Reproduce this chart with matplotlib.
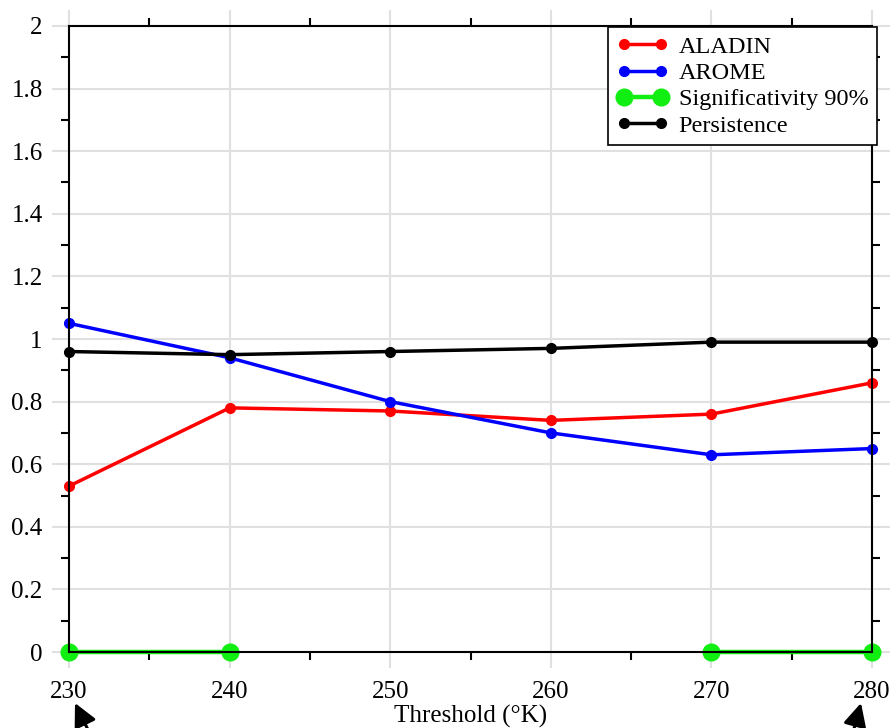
import matplotlib
matplotlib.use("Agg")
import matplotlib.pyplot as plt
import numpy as np

plt.rcParams['font.family'] = ['Liberation Serif', 'DejaVu Serif']

# data
thresholds = [230, 240, 250, 260, 270, 280]
aladin = [0.53, 0.78, 0.77, 0.74, 0.76, 0.86]
arome = [1.05, 0.94, 0.80, 0.70, 0.63, 0.65]
signif = [0, 0, np.nan, np.nan, 0, 0]
persistence = [0.96, 0.95, 0.96, 0.97, 0.99, 0.99]

x_ticks = [230, 240, 250, 260, 270, 280]
y_ticks = [0, 0.2, 0.4, 0.6, 0.8, 1, 1.2, 1.4, 1.6, 1.8, 2]
y_tick_labels = ['0', '0.2', '0.4', '0.6', '0.8', '1', '1.2', '1.4', '1.6', '1.8', '2']

fs = 18

fig = plt.figure(figsize=(8.93, 7.28), dpi=100)
ax = fig.add_axes([52 / 893, 1 - 668 / 728, 838 / 893, 658 / 728])

ax.plot(thresholds, aladin, color='#ff0000', lw=2.5, marker='o', ms=7, label='ALADIN')
ax.plot(thresholds, arome, color='#0000ff', lw=2.5, marker='o', ms=7, label='AROME')
ax.plot(thresholds, signif, color='#11ee11', lw=3.2, marker='o', ms=12,
        label='Significativity 90%', clip_on=False)
ax.plot(thresholds, persistence, color='black', lw=2.5, marker='o', ms=7, label='Persistence')

# gridlines reach a bit past the frame
ax.set_xlim(228.94, 281.12)
ax.set_ylim(-0.0511, 2.0511)

ax.set_xticks(x_ticks)
ax.set_xticklabels([str(t) for t in x_ticks])
ax.set_yticks(y_ticks)
ax.set_yticklabels(y_tick_labels)
ax.set_xticks(np.arange(235, 280, 10), minor=True)
ax.set_yticks(np.arange(0.1, 2.0, 0.2), minor=True)

# frame drawn with the spines, placed on the data box
ax.spines['left'].set_position(('data', 230))
ax.spines['right'].set_position(('data', 280))
ax.spines['bottom'].set_position(('data', 0))
ax.spines['top'].set_position(('data', 2))
for s in ['left', 'right']:
    ax.spines[s].set_bounds(0, 2)
for s in ['top', 'bottom']:
    ax.spines[s].set_bounds(230, 280)
for s in ax.spines.values():
    s.set_linewidth(1.5)
    s.set_zorder(2.5)

ax.tick_params(which='major', length=0, labelsize=fs)
ax.tick_params(axis='x', which='major', pad=21)
ax.tick_params(axis='y', which='major', pad=19)
ax.tick_params(which='minor', direction='out', length=6, width=1.5,
               top=True, right=True, bottom=True, left=True)

ax.grid(True, which='major', color='#e0e0e0', lw=1.5)
ax.set_axisbelow(True)

ax.set_xlabel('Threshold (°K)', fontsize=fs, labelpad=1)

leg = ax.legend(loc='upper right', bbox_to_anchor=(0.9845, 0.974), borderaxespad=0,
                fontsize=17.5, numpoints=2, handlelength=2.1, handletextpad=0.45,
                labelspacing=0.18, borderpad=0.35, fancybox=False, framealpha=1)
leg.get_frame().set_edgecolor('black')
leg.get_frame().set_linewidth(1.2)

# cursor arrows below the axis ends
arrow = dict(arrowstyle='-|>,head_length=1.0,head_width=0.5', color='black', lw=2.2,
             mutation_scale=14, shrinkA=0, shrinkB=0)
ax.annotate('', xy=(75 / 893, 1 - 703 / 728), xytext=(91 / 893, 1 - 736 / 728),
            xycoords='figure fraction', textcoords='figure fraction',
            arrowprops=arrow, annotation_clip=False)
ax.annotate('', xy=(861 / 893, 1 - 703 / 728), xytext=(852 / 893, 1 - 736 / 728),
            xycoords='figure fraction', textcoords='figure fraction',
            arrowprops=arrow, annotation_clip=False)

fig.savefig('out.png', dpi=100)
